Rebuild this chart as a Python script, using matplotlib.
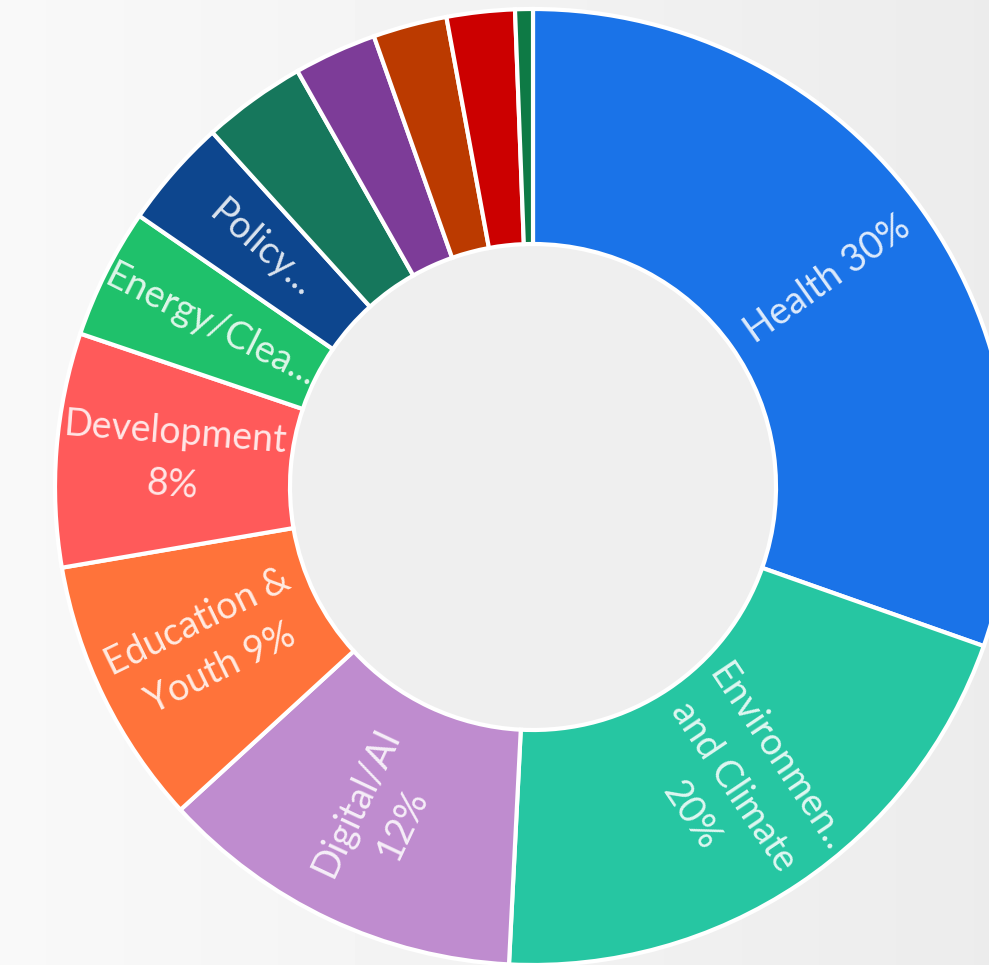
import numpy as np
import matplotlib.pyplot as plt

# slice data, clockwise from 12 o'clock
categories = ["Health", "Environment and Climate", "Digital/AI", "Education & Youth",
              "Development", "Energy/Clean Tech", "Policy", "Other 1", "Other 2",
              "Other 3", "Other 4", "Other 5"]
shares = [30.4, 20.4, 12.4, 9.1, 7.9, 4.4, 3.7, 3.5, 2.8, 2.5, 2.3, 0.6]
labels = ["Health 30%", "Environmen..\nand Climate\n20%", "Digital/AI\n12%",
          "Education &\nYouth 9%", "Development\n8%", "Energy/Clea...", "Policy...",
          "", "", "", "", ""]
colors = ["#1a73e8", "#26c6a2", "#bf8ccf", "#ff733a", "#ff5a5a", "#1fc16b",
          "#0d468e", "#16775c", "#7d3c98", "#bb3a00", "#cc0000", "#0e7a45"]

W, H = 989, 965
cx, cy = 533, -487
r_out, ring = 478, 235

fig = plt.figure(figsize=(W / 100, H / 100), dpi=100)
ax = fig.add_axes([0, 0, 1, 1])

# soft grey background
grad = np.linspace(0.975, 0.925, 256)[None, :]
ax.imshow(grad, cmap="gray", vmin=0, vmax=1, extent=[0, W, -H, 0], aspect="auto", zorder=0)
ax.add_patch(plt.Circle((cx, cy), r_out - ring, color="#efefef", zorder=1))

wedges, _ = ax.pie(shares, colors=colors, startangle=90, counterclock=False,
                   center=(cx, cy), radius=r_out, frame=True,
                   wedgeprops=dict(width=ring, edgecolor="white", linewidth=3))
for w in wedges:
    w.set_zorder(2)
ax.set_xlim(0, W)
ax.set_ylim(-H, 0)
ax.axis("off")

r_lab = r_out - ring / 2
for w, lab in zip(wedges, labels):
    if not lab:
        continue
    a = (w.theta1 + w.theta2) / 2
    a = (a + 180) % 360 - 180
    x = cx + r_lab * np.cos(np.radians(a))
    y = cy + r_lab * np.sin(np.radians(a))
    rot = a if -90 <= a <= 90 else a + 180
    ax.text(x, y, lab, rotation=rot, rotation_mode="anchor", ha="center", va="center",
            multialignment="center", fontsize=27, family="Lato",
            color="white", alpha=0.85, linespacing=1.55, zorder=3)

fig.savefig("out.png", dpi=100)
